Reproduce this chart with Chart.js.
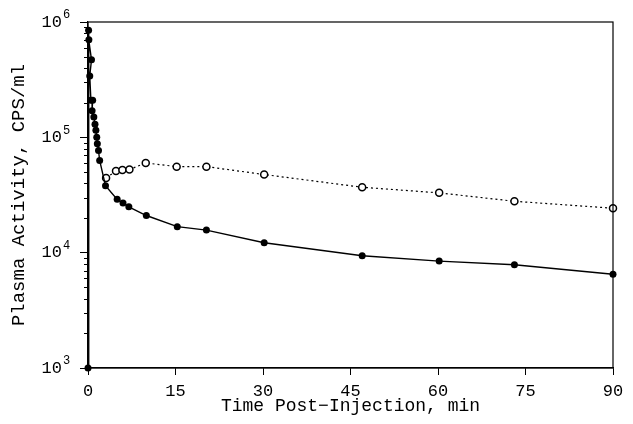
<!DOCTYPE html>
<html>
<head>
<meta charset="utf-8">
<script src="https://cdn.jsdelivr.net/npm/chart.js@4/dist/chart.umd.min.js"></script>
<style>
  html, body { margin: 0; padding: 0; background: #fff; }
  #wrap { width: 633px; height: 424px; position: relative; }
</style>
</head>
<body>
<div id="wrap"><canvas id="c"></canvas></div>
<script>
// closed circles: whole plasma activity
const filledTimes = [0, 0.1, 0.15, 0.6, 0.3, 0.5, 0.8, 0.7, 1.0, 1.2, 1.35, 1.5, 1.6, 1.8, 2.0, 3.0, 5.0, 6.0, 7.0, 10.0, 15.3, 20.3, 30.2, 47.0, 60.2, 73.1, 90];
const filledValues = [1000, 850000, 700000, 470000, 340000, 210000, 210000, 170000, 150000, 130000, 115000, 100000, 88000, 77000, 63000, 38000, 29000, 27000, 25000, 21000, 16800, 15700, 12200, 9400, 8450, 7850, 6500];

// open circles
const openTimes = [3.1, 4.8, 5.9, 7.1, 9.9, 15.2, 20.3, 30.2, 47.0, 60.2, 73.1, 90];
const openValues = [44500, 51000, 52000, 52500, 60000, 55700, 55700, 47600, 36900, 33000, 27900, 24300];

const xTicks = [0, 15, 30, 45, 60, 75, 90];
const yMajor = [1e3, 1e4, 1e5, 1e6];
const yExponents = ['3', '4', '5', '6'];

const FONT = "'Liberation Mono', 'DejaVu Sans Mono', monospace";

function toPoints(xs, ys) {
  return xs.map((x, i) => ({ x, y: ys[i] }));
}

// frame, minor log ticks and 10^n labels
const decorations = {
  id: 'decorations',
  afterDraw(chart) {
    const { ctx, chartArea } = chart;
    const ys = chart.scales.y;
    ctx.save();
    ctx.strokeStyle = '#000';
    ctx.lineWidth = 1.2;
    ctx.strokeRect(chartArea.left, chartArea.top, chartArea.right - chartArea.left, chartArea.bottom - chartArea.top);

    ctx.lineWidth = 1;
    for (let d = 3; d < 6; d++) {
      for (let m = 2; m <= 9; m++) {
        const py = Math.round(ys.getPixelForValue(m * Math.pow(10, d))) + 0.5;
        ctx.beginPath();
        ctx.moveTo(chartArea.left - 4, py);
        ctx.lineTo(chartArea.left, py);
        ctx.stroke();
      }
    }

    ctx.fillStyle = '#000';
    yMajor.forEach((v, i) => {
      const py = ys.getPixelForValue(v);
      ctx.font = `17px ${FONT}`;
      ctx.textAlign = 'right';
      ctx.textBaseline = 'middle';
      ctx.fillText('10', 62, py);
      ctx.font = `12px ${FONT}`;
      ctx.textAlign = 'left';
      ctx.fillText(yExponents[i], 63, py - 7);
    });
    ctx.restore();
  }
};

new Chart(document.getElementById('c'), {
  type: 'line',
  data: {
    datasets: [
      {
        label: 'closed',
        data: toPoints(filledTimes, filledValues),
        borderColor: '#000',
        backgroundColor: '#000',
        borderWidth: 1.4,
        pointRadius: 3.5,
        pointBorderWidth: 0,
        pointBackgroundColor: '#000',
        tension: 0,
        clip: false
      },
      {
        label: 'open',
        data: toPoints(openTimes, openValues),
        borderColor: '#000',
        backgroundColor: '#fff',
        borderWidth: 1.2,
        borderDash: [2, 3],
        pointRadius: 3.5,
        pointBorderWidth: 1.5,
        pointBackgroundColor: '#fff',
        pointBorderColor: '#000',
        tension: 0,
        clip: false
      }
    ]
  },
  options: {
    responsive: true,
    maintainAspectRatio: false,
    animation: false,
    layout: { padding: { top: 22, right: 20, left: 0, bottom: 0 } },
    plugins: {
      legend: { display: false },
      tooltip: { enabled: false }
    },
    scales: {
      x: {
        type: 'linear',
        min: 0,
        max: 90,
        afterBuildTicks: (s) => { s.ticks = xTicks.map(v => ({ value: v })); },
        afterFit: (s) => { s.height = 56; },
        grid: { drawOnChartArea: false, tickLength: 7, color: '#000', tickColor: '#000' },
        border: { display: true, color: '#000', width: 1.2 },
        ticks: { color: '#000', font: { family: FONT, size: 17 }, padding: 6, maxRotation: 0 },
        title: {
          display: true,
          text: 'Time Post\u2212Injection, min',
          color: '#000',
          font: { family: FONT, size: 18 },
          padding: { top: 0, bottom: 7 }
        }
      },
      y: {
        type: 'logarithmic',
        min: 1000,
        max: 1000000,
        afterBuildTicks: (s) => { s.ticks = yMajor.map(v => ({ value: v })); },
        afterFit: (s) => { s.width = 88; },
        grid: { drawOnChartArea: false, tickLength: 8, color: '#000', tickColor: '#000' },
        border: { display: true, color: '#000', width: 1.2 },
        ticks: { display: false },
        title: {
          display: true,
          text: 'Plasma Activity, CPS/ml',
          color: '#000',
          font: { family: FONT, size: 19 },
          padding: { top: 8, bottom: 0 }
        }
      }
    }
  },
  plugins: [decorations]
});
</script>
</body>
</html>
